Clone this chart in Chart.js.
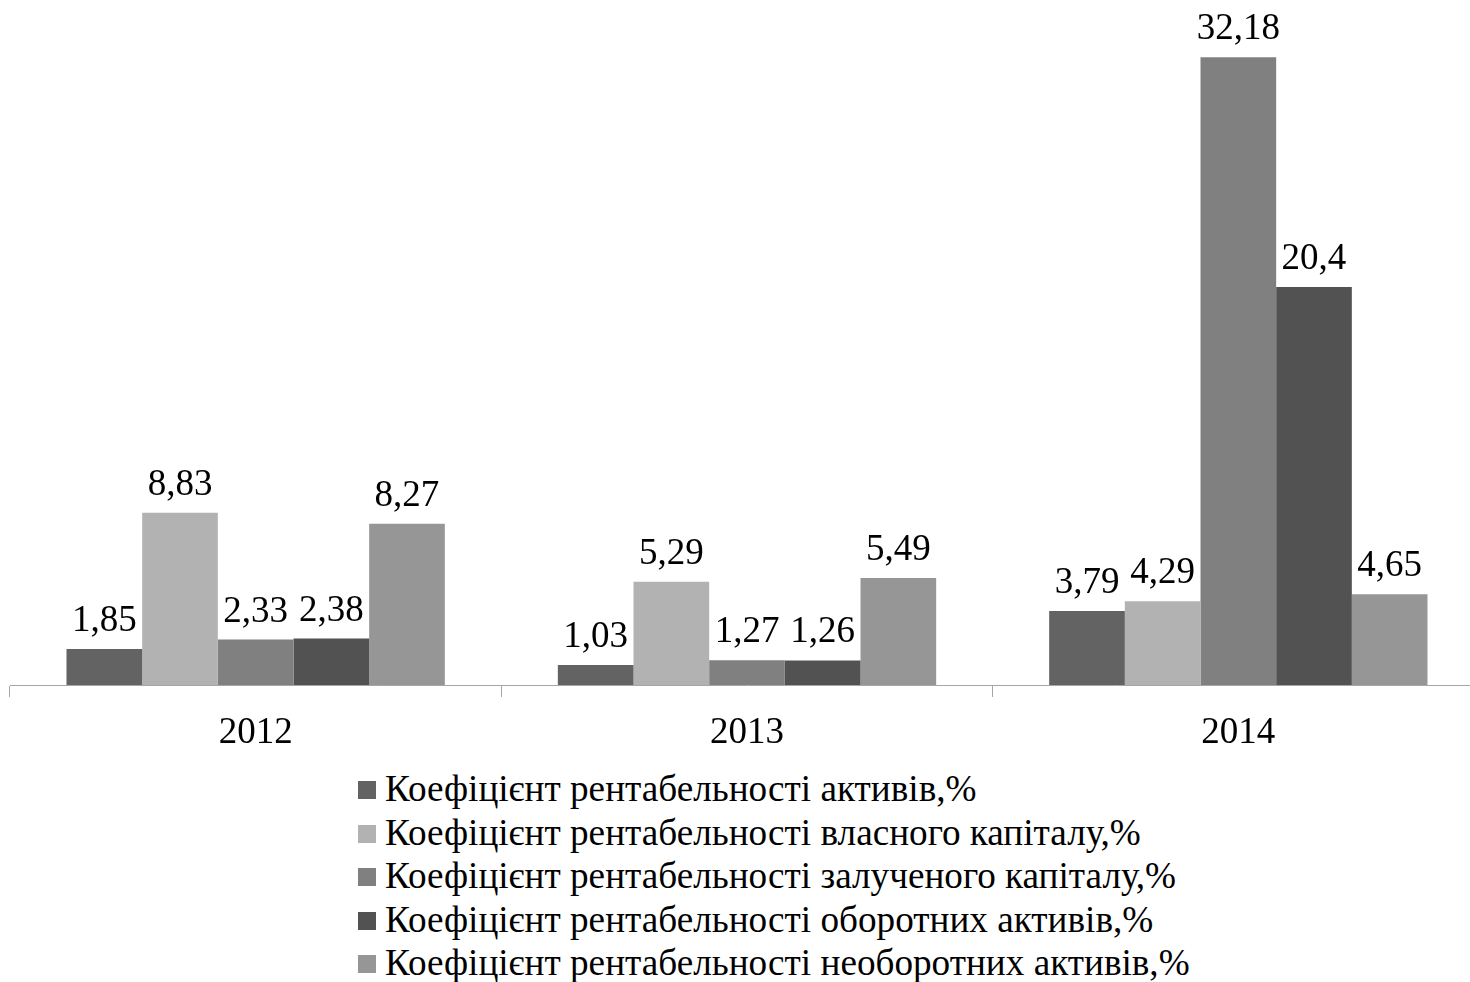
<!DOCTYPE html>
<html>
<head>
<meta charset="utf-8">
<script src="https://cdn.jsdelivr.net/npm/chart.js@4"></script>
<style>
  html, body { margin: 0; padding: 0; background: #fff; overflow: hidden; width: 1470px; height: 982px; }
  #wrap { position: relative; width: 1470px; height: 982px; overflow: hidden; }
  #c { position: absolute; left: 0; top: 0; }
  #legend { position: absolute; left: 358px; top: 767px; font-family: "Liberation Serif", "Times New Roman", serif; font-size: 37.2px; color: #000; }
  .row { position: relative; height: 43.5px; line-height: 43.5px; padding-left: 27px; white-space: nowrap; }
  .sq { position: absolute; left: 0; top: 14px; width: 18px; height: 18px; }
</style>
</head>
<body>
<div id="wrap">
  <canvas id="c" width="1484" height="760"></canvas>
  <div id="legend"></div>
</div>
<script>
const categories = ['2012', '2013', '2014'];
const seriesNames = [
  'Коефіцієнт рентабельності активів,%',
  'Коефіцієнт рентабельності власного капіталу,%',
  'Коефіцієнт рентабельності залученого капіталу,%',
  'Коефіцієнт рентабельності оборотних активів,%',
  'Коефіцієнт рентабельності необоротних активів,%'
];
const assetsReturn = [1.85, 1.03, 3.79];
const equityReturn = [8.83, 5.29, 4.29];
const borrowedReturn = [2.33, 1.27, 32.18];
const currentAssetsReturn = [2.38, 1.26, 20.4];
const nonCurrentAssetsReturn = [8.27, 5.49, 4.65];
const seriesColors = ['#636363', '#b2b2b2', '#808080', '#525252', '#969696'];

const seriesValues = [assetsReturn, equityReturn, borrowedReturn, currentAssetsReturn, nonCurrentAssetsReturn];

const valueLabels = {
  id: 'valueLabels',
  afterDatasetsDraw(chart) {
    const ctx = chart.ctx;
    ctx.save();
    ctx.font = '37px "Liberation Serif", "Times New Roman", serif';
    ctx.fillStyle = '#000';
    ctx.textAlign = 'center';
    ctx.textBaseline = 'alphabetic';
    chart.data.datasets.forEach((ds, i) => {
      const meta = chart.getDatasetMeta(i);
      meta.data.forEach((bar, j) => {
        const v = ds.data[j];
        ctx.fillText(String(v).replace('.', ','), bar.x, bar.y - 18);
      });
    });
    ctx.restore();
  }
};

const chart = new Chart(document.getElementById('c'), {
  type: 'bar',
  data: {
    labels: categories,
    datasets: seriesNames.map((name, i) => ({
      label: name,
      data: seriesValues[i],
      backgroundColor: seriesColors[i],
      borderWidth: 0
    }))
  },
  options: {
    responsive: false,
    devicePixelRatio: 1,
    animation: false,
    layout: { padding: { left: 10, right: 0, top: 10, bottom: 0 } },
    plugins: { legend: { display: false }, tooltip: { enabled: false } },
    datasets: { bar: { categoryPercentage: 0.77, barPercentage: 1.0 } },
    scales: {
      x: {
        offset: true,
        grid: { offset: true, drawOnChartArea: false, drawTicks: true, tickLength: 12, color: '#a6a6a6', lineWidth: 1 },
        border: { display: true, color: '#a6a6a6', width: 1 },
        ticks: { color: '#000', font: { family: '"Liberation Serif", "Times New Roman", serif', size: 37 }, padding: 14, maxRotation: 0 },
        afterFit(s) { s.height = 75; }
      },
      y: {
        display: false,
        min: 0,
        max: 34.6
      }
    }
  },
  plugins: [valueLabels]
});

const legend = document.getElementById('legend');
seriesNames.forEach((name, i) => {
  const row = document.createElement('div');
  row.className = 'row';
  const sq = document.createElement('span');
  sq.className = 'sq';
  sq.style.background = seriesColors[i];
  row.appendChild(sq);
  row.appendChild(document.createTextNode(name));
  legend.appendChild(row);
});
</script>
</body>
</html>
